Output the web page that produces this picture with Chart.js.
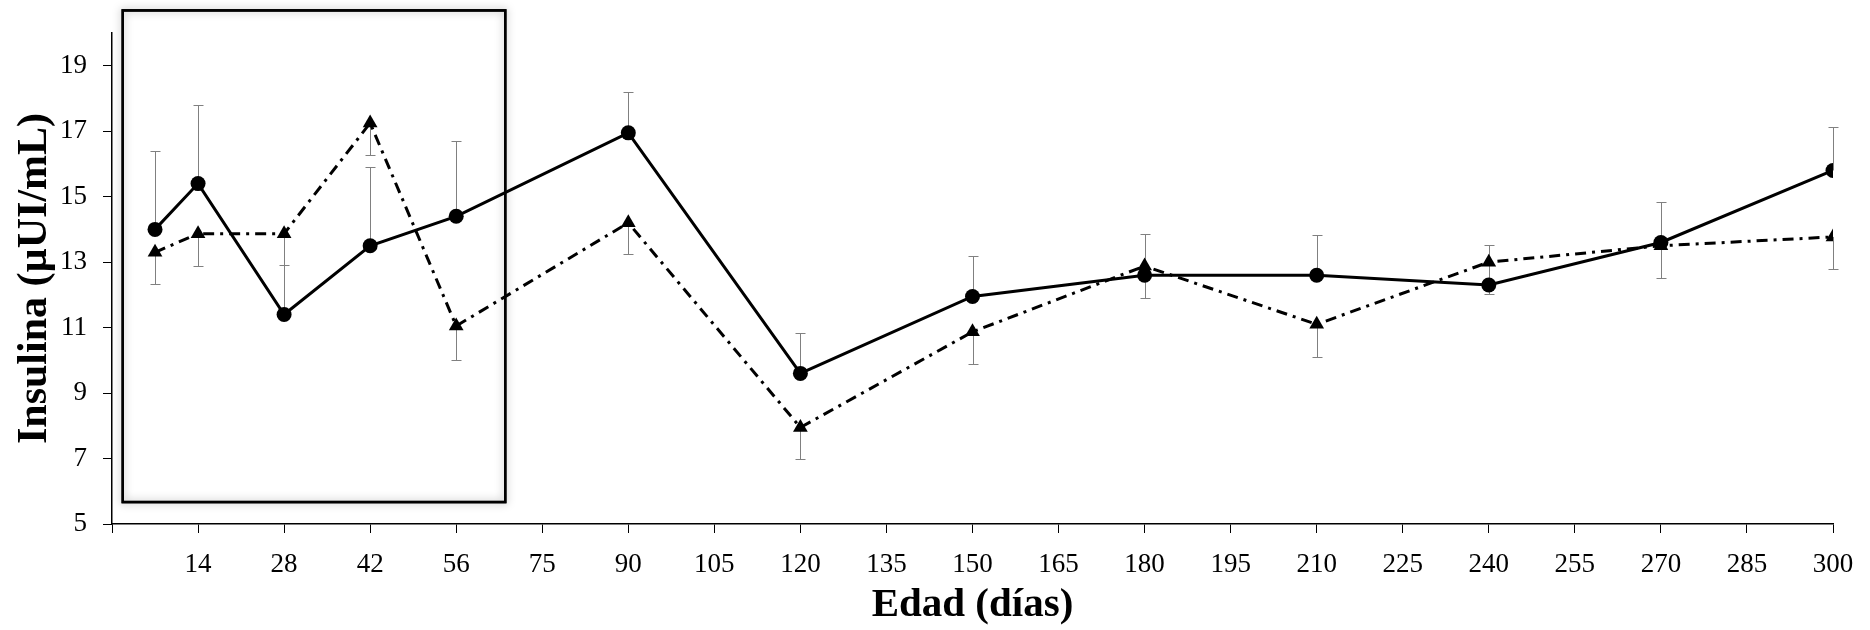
<!DOCTYPE html>
<html>
<head>
<meta charset="utf-8">
<script src="https://cdn.jsdelivr.net/npm/chart.js@4"></script>
<style>
  body { margin: 0; background: #fff; }
  #wrap { width: 1870px; height: 630px; position: relative; }
</style>
</head>
<body>
<div id="wrap"><canvas id="insulina"></canvas></div>
<script>
// x axis tick labels (días); an unlabelled slot sits before 14
const tickLabels = ['14', '28', '42', '56', '75', '90', '105', '120', '135', '150',
                    '165', '180', '195', '210', '225', '240', '255', '270', '285', '300'];
const days = [7, 14, 28, 42, 56, 90, 120, 150, 180, 210, 240, 270, 300];

// circles, solid line (error bar upward)
const serieA = [14.0, 15.4, 11.4, 13.5, 14.4, 16.95, 9.6, 11.95, 12.6, 12.6, 12.3, 13.6, 15.8];
const errA   = [2.4, 2.4, 1.5, 2.4, 2.3, 1.25, 1.25, 1.25, 1.25, 1.22, 1.22, 1.25, 1.33];

// triangles, dash-dot line (error bar downward)
const serieB = [13.3, 13.87, 13.87, 17.25, 11.05, 14.2, 7.95, 10.87, 12.88, 11.1, 13.0, 13.5, 13.77];
const errB   = [0.96, 1.0, 2.5, 0.97, 1.03, 0.94, 0.97, 0.97, 0.98, 1.0, 0.96, 0.99, 0.97];

const yTicks = [5, 7, 9, 11, 13, 15, 17, 19];

// highlighted box (axis units)
const boxX = [0.125, 4.57];
const boxY = [5.67, 20.69];

function slotOf(d) {
  const i = tickLabels.indexOf(String(d));
  return i >= 0 ? i + 1 : d / 14;
}

const ptsA = days.map((d, i) => ({ x: slotOf(d), y: serieA[i], e: errA[i] }));
const ptsB = days.map((d, i) => ({ x: slotOf(d), y: serieB[i], e: -errB[i] }));

const errorBars = {
  id: 'errorBars',
  beforeDatasetsDraw(chart) {
    const ctx = chart.ctx, xs = chart.scales.x, ys = chart.scales.y;
    ctx.save();
    ctx.strokeStyle = '#808080';
    ctx.lineWidth = 1;
    chart.data.datasets.forEach(ds => {
      ds.data.forEach(p => {
        const px = Math.round(xs.getPixelForValue(p.x)) + 0.5;
        const y0 = ys.getPixelForValue(p.y);
        const y1 = Math.round(ys.getPixelForValue(p.y + p.e)) + 0.5;
        ctx.beginPath();
        ctx.moveTo(px, y0); ctx.lineTo(px, y1);
        ctx.moveTo(px - 5, y1); ctx.lineTo(px + 5, y1);
        ctx.stroke();
      });
    });
    ctx.restore();
  }
};

const frameBox = {
  id: 'frameBox',
  afterDraw(chart) {
    const ctx = chart.ctx, xs = chart.scales.x, ys = chart.scales.y;
    const x1 = xs.getPixelForValue(boxX[0]), x2 = xs.getPixelForValue(boxX[1]);
    const y1 = ys.getPixelForValue(boxY[1]), y2 = ys.getPixelForValue(boxY[0]);
    ctx.save();
    ctx.shadowColor = 'rgba(0,0,0,0.35)';
    ctx.shadowBlur = 9;
    ctx.strokeStyle = '#000';
    ctx.lineWidth = 2.5;
    ctx.strokeRect(x1, y1, x2 - x1, y2 - y1);
    ctx.shadowColor = 'transparent';
    ctx.strokeRect(x1, y1, x2 - x1, y2 - y1);
    ctx.restore();
  }
};

const serif = 'Liberation Serif, Times New Roman, serif';

new Chart(document.getElementById('insulina'), {
  type: 'line',
  data: {
    datasets: [{
      data: ptsA,
      borderColor: '#000',
      backgroundColor: '#000',
      borderWidth: 3,
      pointStyle: 'circle',
      pointRadius: 7.5,
      pointBackgroundColor: '#000',
      pointBorderWidth: 0,
      tension: 0
    }, {
      data: ptsB,
      borderColor: '#000',
      backgroundColor: '#000',
      borderWidth: 3,
      borderDash: [11, 6, 3, 6],
      pointStyle: 'triangle',
      pointRadius: 8.5,
      pointBackgroundColor: '#000',
      pointBorderWidth: 0,
      tension: 0
    }]
  },
  options: {
    responsive: true,
    maintainAspectRatio: false,
    animation: false,
    layout: { padding: { top: 33, right: 37, left: 0, bottom: 0 } },
    plugins: { legend: { display: false }, tooltip: { enabled: false } },
    scales: {
      x: {
        type: 'linear',
        min: 0,
        max: 20,
        afterBuildTicks: s => { s.ticks = tickLabels.map((t, i) => ({ value: i + 1 })); s.ticks.unshift({ value: 0 }); },
        afterFit: s => { s.height = 106; },
        grid: { drawOnChartArea: false, drawTicks: true, tickLength: 9, color: '#000', lineWidth: 1 },
        border: { color: '#000', width: 1.5 },
        ticks: {
          autoSkip: false,
          maxRotation: 0,
          padding: 16,
          color: '#000',
          font: { family: serif, size: 27 },
          callback: v => (v === 0 ? '' : tickLabels[v - 1])
        },
        title: {
          display: true,
          text: 'Edad (días)',
          color: '#000',
          font: { family: serif, size: 41, weight: 'bold' },
          padding: { top: 0, bottom: 0 }
        }
      },
      y: {
        min: 5,
        max: 20,
        afterBuildTicks: s => { s.ticks = yTicks.map(v => ({ value: v })); },
        afterFit: s => { s.width = 112; },
        grid: { drawOnChartArea: false, drawTicks: true, tickLength: 9, color: '#000', lineWidth: 1 },
        border: { color: '#000', width: 1.5 },
        ticks: {
          padding: 16,
          color: '#000',
          font: { family: serif, size: 27 }
        },
        title: {
          display: true,
          text: 'Insulina (µUI/mL)',
          color: '#000',
          font: { family: serif, size: 42, weight: 'bold' },
          padding: { top: 10, bottom: 0 }
        }
      }
    }
  },
  plugins: [errorBars, frameBox]
});
</script>
</body>
</html>
